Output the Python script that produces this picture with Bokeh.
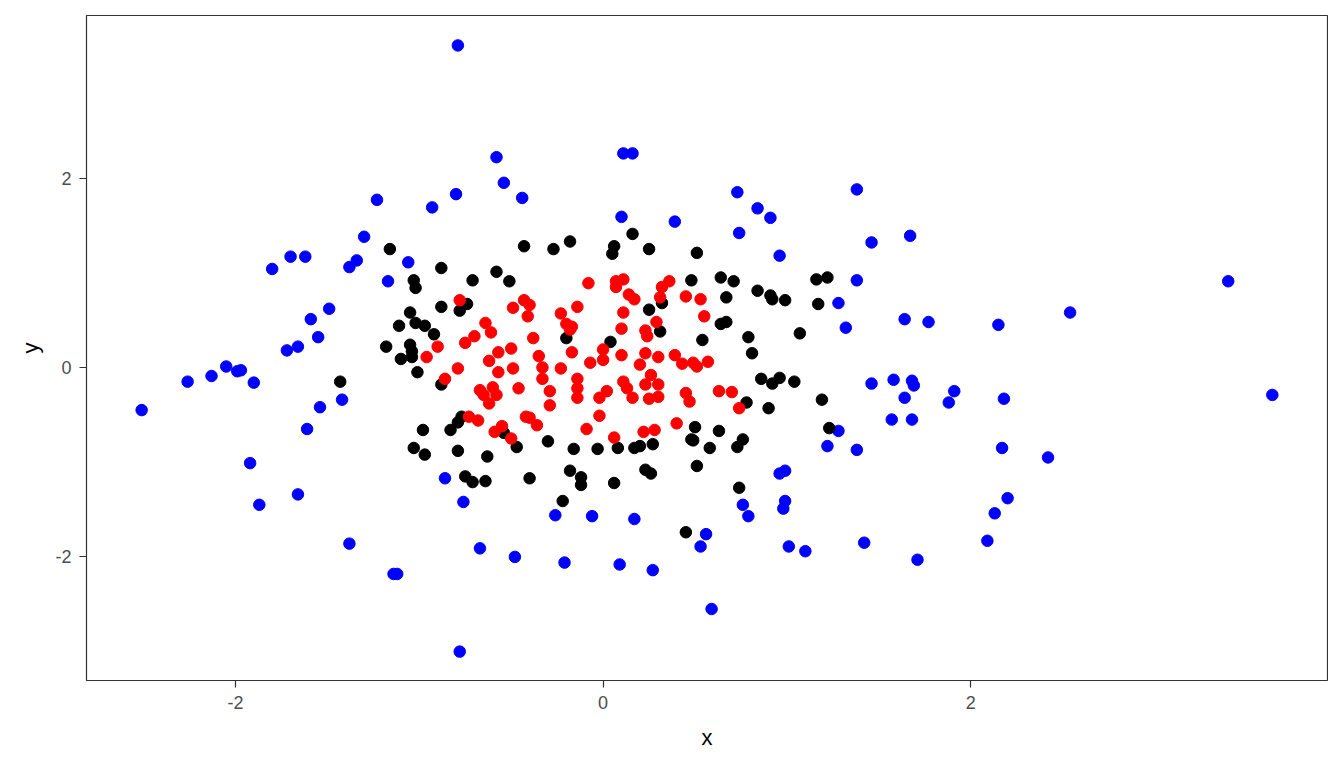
from bokeh.plotting import figure
from bokeh.models import Range1d, FixedTicker
from bokeh.embed import file_html
from bokeh.resources import INLINE

# outer ring (blue)
blue_x = [-2.51, -2.26, -2.13, -2.05, -1.99, -1.97, -1.90, -1.92, -1.87, -1.80,
          -1.70, -1.62, -1.72, -1.66, -1.59, -1.55, -1.54, -1.61, -1.66, -1.49,
          -1.42, -1.38, -1.34, -1.30, -1.38, -1.23, -1.17, -1.14, -1.12, -1.06,
          -0.93, -0.86, -0.80, -0.79, -0.78, -0.76, -0.67, -0.58, -0.54, -0.48,
          -0.44, -0.26, -0.21, -0.06, 0.09, 0.10, 0.11, 0.16, 0.17, 0.27,
          0.39, 0.53, 0.56, 0.59, 0.73, 0.74, 0.76, 0.79, 0.84, 0.91,
          0.96, 0.96, 0.99, 0.98, 0.99, 1.01, 1.10, 1.22, 1.28, 1.28,
          1.32, 1.38, 1.38, 1.38, 1.42, 1.46, 1.46, 1.57, 1.58, 1.64,
          1.64, 1.67, 1.68, 1.69, 1.68, 1.71, 1.77, 1.88, 1.91, 2.09,
          2.13, 2.15, 2.17, 2.18, 2.20, 2.42, 2.54, 3.40, 3.64]
blue_y = [-0.45, -0.15, -0.09, 0.01, -0.04, -0.03, -0.16, -1.01, -1.45, 1.04,
          1.17, 1.17, 0.18, 0.22, 0.51, 0.32, -0.42, -0.65, -1.34, 0.62,
          -0.34, 1.06, 1.13, 1.38, -1.86, 1.77, 0.91, -2.18, -2.18, 1.11,
          1.69, -1.17, 1.83, 3.40, -3.00, -1.42, -1.91, 2.22, 1.95, -2.00,
          1.79, -1.56, -2.06, -1.57, -2.08, 1.59, 2.26, 2.26, -1.60, -2.14,
          1.54, -1.89, -1.76, -2.55, 1.85, 1.42, -1.45, -1.57, 1.68, 1.58,
          1.18, -1.12, -1.09, -1.49, -1.41, -1.89, -1.94, -0.83, 0.68, -0.67,
          0.42, 1.88, 0.92, -0.87, -1.85, -0.17, 1.32, -0.55, -0.13, 0.51,
          -0.32, 1.39, -0.14, -0.19, -0.55, -2.03, 0.48, -0.37, -0.25, -1.83,
          -1.54, 0.45, -0.85, -0.33, -1.38, -0.95, 0.58, 0.91, -0.29]

# middle ring (black)
black_x = [-1.43, -1.18, -1.16, -1.11, -1.10, -1.05, -1.05, -1.04, -1.04, -1.03,
           -1.02, -1.02, -1.01, -1.03, -0.98, -0.97, -0.97, -0.92, -0.88, -0.88,
           -0.88, -0.83, -0.79, -0.79, -0.78, -0.77, -0.75, -0.74, -0.71, -0.71,
           -0.64, -0.63, -0.58, -0.54, -0.51, -0.47, -0.43, -0.40, -0.30, -0.27,
           -0.22, -0.20, -0.18, -0.18, -0.16, -0.12, -0.12, -0.03, 0.04, 0.05,
           0.06, 0.06, 0.08, 0.16, 0.17, 0.20, 0.23, 0.25, 0.25, 0.26,
           0.27, 0.31, 0.32, 0.45, 0.48, 0.48, 0.50, 0.49, 0.51, 0.51,
           0.54, 0.58, 0.63, 0.64, 0.64, 0.67, 0.67, 0.71, 0.73, 0.74,
           0.76, 0.78, 0.79, 0.81, 0.84, 0.86, 0.90, 0.91, 0.92, 0.92,
           0.96, 0.99, 1.04, 1.07, 1.16, 1.17, 1.19, 1.22, 1.23]
black_y = [-0.15, 0.22, 1.25, 0.44, 0.09, 0.58, 0.24, 0.17, 0.11, 0.92,
           0.47, 0.84, -0.05, -0.85, -0.66, -0.92, 0.44, 0.35, 1.05, 0.64,
           -0.18, -0.66, -0.88, -0.58, 0.60, -0.52, -1.15, 0.67, 0.92, -1.21,
           -1.20, -0.94, 1.01, -0.69, 0.91, -0.84, 1.28, -1.17, -0.78, 1.25,
           -1.41, 0.31, 1.33, -1.09, -0.86, -1.16, -1.24, -0.86, 0.27, 1.20,
           1.28, -1.22, -0.85, 1.41, -0.85, -0.83, -1.08, 1.25, 0.61, -1.12,
           -0.81, 0.38, 0.68, -1.74, 0.92, -0.76, -0.63, -0.77, 1.21, -1.04,
           0.29, -0.85, -0.67, 0.46, 0.95, 0.74, 0.48, 0.91, -0.84, -1.27,
           -0.76, -0.37, 0.32, 0.15, 0.81, -0.12, -0.43, 0.76, -0.17, 0.72,
           -0.11, 0.71, -0.15, 0.36, 0.93, 0.67, -0.34, 0.95, -0.64]

# inner core (red)
red_x = [-0.96, -0.90, -0.86, -0.79, -0.78, -0.75, -0.70, -0.73, -0.68, -0.67,
         -0.65, -0.64, -0.62, -0.62, -0.61, -0.60, -0.59, -0.58, -0.57, -0.57,
         -0.55, -0.50, -0.50, -0.49, -0.49, -0.46, -0.43, -0.42, -0.41, -0.40,
         -0.40, -0.38, -0.36, -0.35, -0.33, -0.33, -0.29, -0.29, -0.23, -0.23,
         -0.20, -0.18, -0.17, -0.17, -0.14, -0.14, -0.14, -0.14, -0.09, -0.08,
         -0.07, -0.02, -0.02, 0.00, 0.00, 0.02, 0.06, 0.07, 0.07, 0.10,
         0.10, 0.11, 0.11, 0.11, 0.13, 0.14, 0.16, 0.17, 0.20, 0.22,
         0.23, 0.23, 0.23, 0.24, 0.25, 0.26, 0.28, 0.29, 0.30, 0.30,
         0.30, 0.31, 0.32, 0.36, 0.39, 0.40, 0.43, 0.45, 0.45, 0.47,
         0.49, 0.51, 0.53, 0.55, 0.57, 0.63, 0.70, 0.74]
red_y = [0.11, 0.22, -0.12, -0.01, 0.71, 0.26, 0.33, -0.52, -0.56, -0.24,
         -0.29, 0.47, 0.07, -0.38, 0.37, -0.21, -0.68, -0.29, 0.16, -0.05,
         -0.62, 0.20, -0.75, -0.01, 0.63, -0.22, 0.71, -0.52, 0.54, 0.66,
         -0.53, 0.31, -0.61, 0.12, 0.00, -0.12, -0.40, -0.25, 0.57, -0.01,
         0.46, 0.40, 0.43, 0.16, -0.22, -0.32, 0.64, -0.12, -0.65, 0.89,
         0.05, -0.32, -0.51, 0.19, 0.08, -0.25, -0.74, 0.85, 0.91, 0.13,
         0.41, 0.58, 0.93, -0.15, -0.22, 0.77, -0.32, 0.72, 0.03, -0.68,
         0.15, -0.18, 0.39, 0.33, -0.33, -0.08, -0.66, 0.48, -0.31, 0.11,
         -0.18, 0.74, 0.85, 0.91, 0.13, -0.59, 0.04, 0.75, -0.27, -0.36,
         0.05, 0.01, 0.72, 0.54, 0.06, -0.25, -0.26, -0.43]

x_ticks = [-2, 0, 2]
y_ticks = [-2, 0, 2]
tick_labels = {-2: "-2", 0: "0", 2: "2"}

p = figure(width=1328, height=752, output_backend="svg", toolbar_location=None,
           x_range=Range1d(-2.81, 3.94), y_range=Range1d(-3.305, 3.716),
           min_border_left=86, min_border_right=1, min_border_top=15,
           min_border_bottom=70)

p.scatter(blue_x, blue_y, size=11.5, color="#0000FF")
p.scatter(black_x, black_y, size=11.5, color="#000000")
p.scatter(red_x, red_y, size=11.5, color="#FF0000")

p.outline_line_color = "#333333"
p.outline_line_width = 1.2
p.background_fill_color = "white"
p.border_fill_color = "white"
p.xgrid.visible = False
p.ygrid.visible = False

p.xaxis.ticker = FixedTicker(ticks=x_ticks)
p.yaxis.ticker = FixedTicker(ticks=y_ticks)
p.xaxis.axis_label = "x"
p.yaxis.axis_label = "y"

for ax in (p.xaxis, p.yaxis):
    ax.major_label_overrides = tick_labels
    ax.axis_line_color = None
    ax.major_tick_line_color = "#333333"
    ax.major_tick_line_width = 1.2
    ax.major_tick_in = 0
    ax.major_tick_out = 7
    ax.minor_tick_line_color = None
    ax.major_label_text_font = "Liberation Sans"
    ax.major_label_text_font_size = "18px"
    ax.major_label_text_color = "#4D4D4D"
    ax.major_label_standoff = 8
    ax.axis_label_text_font = "Liberation Sans"
    ax.axis_label_text_font_size = "22px"
    ax.axis_label_text_font_style = "normal"
    ax.axis_label_text_color = "black"

p.xaxis.axis_label_standoff = 13
p.yaxis.axis_label_standoff = 9

open("out.html", "w").write(file_html(p, INLINE))
